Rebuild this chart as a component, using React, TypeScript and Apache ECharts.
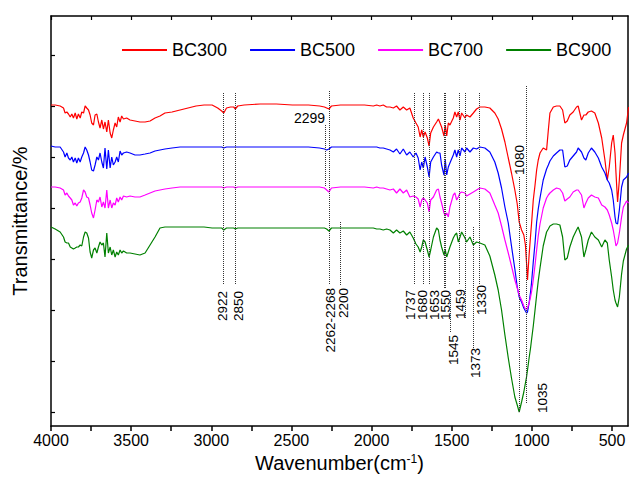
import React, { useEffect, useRef } from 'react';
import * as echarts from 'echarts';

const FONT = "'Liberation Sans', Arial, Helvetica, sans-serif";

// Wavenumber grid (cm-1), shared by all four spectra
const wavenumbers = [
  4000, 3974, 3943, 3922, 3912, 3901, 3891, 3880, 3870, 3860, 3849, 3839, 3829, 3818, 3808, 3797, 3787, 3777, 3766, 3756,
  3746, 3735, 3725, 3714, 3704, 3694, 3683, 3673, 3663, 3652, 3642, 3631, 3621, 3611, 3600, 3590, 3580, 3569, 3559, 3548,
  3528, 3507, 3476, 3445, 3413, 3382, 3351, 3320, 3289,
  3245, 3195, 3145, 3095, 3045, 2995, 2960, 2935, 2922, 2905, 2880, 2860, 2850, 2835, 2795, 2695, 2594, 2494, 2394, 2324,
  2294, 2280, 2266, 2250, 2194, 2144, 2094, 2044,
  1989, 1968, 1948, 1927, 1906, 1885, 1864, 1844, 1823, 1802, 1781, 1761, 1740, 1723, 1709, 1697, 1687, 1677, 1666, 1652,
  1641, 1631, 1614, 1594, 1583, 1573, 1563, 1548, 1540, 1531, 1521, 1511, 1490, 1480, 1469, 1459, 1448, 1438, 1417, 1407,
  1386, 1365, 1345, 1324,
  1293, 1262, 1231, 1210, 1189, 1168, 1147, 1127, 1106, 1091, 1079, 1064, 1050, 1040, 1033, 1027, 1017, 1008, 1002, 991,
  980, 970, 960, 949, 929, 908, 897, 887, 866, 846, 825, 808, 794, 779, 763, 742, 721, 711, 690, 675,
  663, 648, 628, 607, 585, 564, 544, 529, 517, 502, 492, 481, 475, 465, 454, 440, 429, 409, 396,
];

// Transmittance (arbitrary units, curves offset)
const bc300 = [
  321, 321, 320, 318, 313, 314, 312, 309, 312, 308, 313, 307, 312, 308, 314, 313, 320, 318, 316, 311,
  303, 301, 311, 312, 304, 298, 306, 297, 304, 294, 306, 293, 288, 296, 303, 299, 309, 304, 310, 307,
  308, 306, 305, 304, 304, 305, 308, 310, 313,
  314, 316, 318, 320, 321, 321, 318, 315, 313, 318, 319, 319, 317, 320, 321, 322, 322, 321, 321, 320,
  319, 318, 317, 320, 321, 321, 321, 321,
  320, 321, 320, 321, 319, 319, 318, 320, 316, 319, 316, 318, 308, 303, 299, 289, 296, 289, 294, 288,
  280, 293, 299, 304, 307, 303, 299, 290, 301, 290, 303, 301, 308, 314, 309, 314, 306, 313, 308, 311,
  309, 313, 317, 319,
  319, 318, 313, 307, 297, 284, 268, 253, 236, 222, 204, 196, 191, 181, 163, 146, 171, 190, 202, 226,
  241, 256, 266, 273, 278, 276, 296, 313, 319, 320, 320, 316, 303, 305, 311, 314, 319, 320, 306, 311,
  311, 314, 315, 313, 303, 288, 266, 246, 259, 283, 291, 273, 253, 224, 246, 283, 291, 303, 319,
];

const bc500 = [
  280, 279, 279, 274, 269, 273, 268, 266, 269, 264, 268, 263, 268, 264, 269, 273, 279, 276, 271, 264,
  256, 255, 261, 269, 266, 273, 264, 258, 278, 257, 276, 258, 269, 261, 264, 269, 264, 275, 271, 273,
  274, 273, 271, 271, 272, 273, 275, 276, 277,
  278, 279, 279, 279, 279, 279, 279, 279, 278, 279, 279, 279, 279, 279, 279, 279, 279, 279, 279, 278,
  277, 276, 277, 279, 279, 279, 279, 279,
  279, 279, 278, 278, 277, 276, 274, 277, 272, 277, 271, 274, 269, 273, 268, 256, 264, 258, 269, 259,
  249, 264, 269, 274, 273, 273, 261, 251, 266, 251, 259, 263, 271, 276, 269, 276, 270, 278, 274, 278,
  274, 278, 277, 279,
  278, 274, 264, 253, 238, 219, 203, 180, 157, 139, 129, 124, 118, 115, 113, 114, 123, 134, 143, 164,
  183, 204, 217, 228, 246, 257, 261, 265, 270, 273, 276, 276, 259, 260, 266, 270, 274, 278, 274, 268,
  266, 273, 278, 274, 268, 259, 253, 246, 243, 236, 226, 209, 203, 202, 216, 239, 246, 249, 253,
];

const bc700 = [
  239, 239, 238, 236, 231, 233, 230, 228, 226, 221, 223, 220, 223, 224, 228, 236, 234, 229, 228, 221,
  213, 208, 216, 226, 224, 229, 219, 224, 218, 236, 218, 226, 218, 223, 221, 228, 224, 229, 226, 230,
  229, 230, 229, 229, 231, 233, 235, 236, 237,
  238, 239, 239, 239, 239, 239, 239, 239, 238, 239, 239, 239, 238, 239, 239, 239, 239, 239, 239, 239,
  238, 236, 234, 238, 239, 239, 239, 239,
  238, 239, 238, 238, 237, 236, 237, 233, 237, 233, 236, 229, 230, 229, 227, 219, 226, 228, 226, 223,
  214, 226, 229, 236, 237, 229, 223, 213, 210, 213, 209, 219, 231, 233, 226, 229, 233, 234, 233, 230,
  232, 234, 236, 238,
  237, 233, 221, 213, 200, 186, 173, 160, 146, 138, 131, 126, 120, 117, 117, 118, 123, 129, 134, 146,
  161, 176, 190, 202, 218, 228, 231, 233, 236, 238, 237, 233, 225, 227, 229, 234, 236, 236, 231, 218,
  223, 228, 231, 229, 228, 221, 219, 216, 211, 203, 196, 186, 180, 183, 193, 209, 219, 225, 223,
];

const bc900 = [
  199, 197, 194, 189, 184, 183, 183, 179, 178, 177, 178, 179, 179, 181, 180, 189, 194, 193, 188, 174,
  168, 176, 178, 173, 179, 184, 181, 183, 169, 193, 173, 179, 171, 176, 169, 174, 171, 176, 173, 175,
  173, 173, 172, 171, 173, 181, 189, 198, 199,
  199, 199, 199, 199, 199, 198, 198, 198, 196, 198, 198, 198, 197, 198, 198, 198, 198, 198, 198, 198,
  198, 197, 195, 198, 198, 198, 198, 198,
  198, 197, 197, 196, 197, 196, 193, 196, 193, 195, 191, 194, 188, 182, 179, 174, 179, 186, 184, 176,
  169, 176, 189, 198, 196, 186, 179, 171, 176, 169, 174, 179, 188, 191, 193, 184, 189, 194, 188, 184,
  189, 181, 184, 183,
  181, 170, 151, 136, 116, 91, 68, 48, 29, 21, 14, 24, 34, 43, 49, 56, 68, 78, 86, 100,
  116, 131, 145, 158, 180, 194, 197, 200, 202, 202, 201, 189, 166, 168, 179, 189, 196, 199, 189, 169,
  176, 186, 194, 189, 186, 179, 186, 183, 166, 149, 136, 126, 123, 119, 129, 152, 165, 177, 181,
];

const seriesNames = ['BC300', 'BC500', 'BC700', 'BC900'];
const seriesColors = ['#ff0000', '#0000ff', '#ff00ff', '#008000'];

const xLabelValues = [4000, 3500, 3000, 2500, 2000, 1500, 1000, 500];
const xTickValues = [4000, 3750, 3500, 3250, 3000, 2750, 2500, 2250, 2000, 1750, 1500, 1250, 1000, 750, 500];
const yTickValues = [14, 65, 116, 167, 218, 269, 320, 371];

// Peak-marker lines: [wavenumber, upper end, lower end]
const peakLines = [
  [2924, 333, 141], [2849, 333, 141], [2262, 335, 141], [2290, 301, 240], [2196, 204, 141],
  [1733, 333, 141], [1677, 333, 141], [1643, 333, 141], [1548, 333, 138], [1538, 333, 138],
  [1506, 133, 93], [1455, 333, 141], [1414, 333, 107], [1366, 199, 78], [1331, 333, 141],
  [1080, 249, 14], [1035, 340, 23],
];

// Vertical peak labels: [text, wavenumber of label centre, upper end]
const peakLabels = [
  ['2922', 2931, 135], ['2850', 2831, 135], ['2262-2268', 2259, 138], ['2200', 2172, 138],
  ['1737', 1756, 136], ['1680', 1681, 136], ['1653', 1609, 136], ['1550', 1536, 136],
  ['1545', 1490, 91], ['1459', 1442, 137], ['1373', 1350, 78], ['1330', 1317, 141],
  ['1080', 1074, 281], ['1035', 933, 43],
];
const horizontalLabel = ['2299', 2290, 301];

export default function App() {
  const ref = useRef<HTMLDivElement>(null);

  useEffect(() => {
    document.body.style.margin = '0';
    if (!ref.current) return;
    const chart = echarts.init(ref.current, null, { renderer: 'svg' });
    const allData = [bc300, bc500, bc700, bc900];
    const axisLineStyle = { color: '#000', width: 1.5 };

    const series: any[] = allData.map((vals, si) => ({
      name: seriesNames[si],
      type: 'line',
      xAxisIndex: 0,
      yAxisIndex: 0,
      data: wavenumbers.map((w, i) => [w, vals[i]]),
      showSymbol: false,
      symbol: 'none',
      lineStyle: { color: seriesColors[si], width: 1.2 },
      itemStyle: { color: seriesColors[si] },
      emphasis: { disabled: true },
      z: 3,
    }));
    series[0].markLine = {
      silent: true,
      symbol: ['none', 'none'],
      label: { show: false },
      emphasis: { disabled: true },
      lineStyle: { type: 'dotted', color: '#333', width: 1 },
      data: peakLines.map(([wn, y1, y2]) => [{ coord: [wn, y1] }, { coord: [wn, y2] }]),
    };

    const option: any = {
      animation: false,
      backgroundColor: '#fff',
      textStyle: { fontFamily: FONT },
      grid: { left: 51, right: 1, top: 16, bottom: 52, containLabel: false, outerBoundsMode: 'none' },
      legend: {
        show: true,
        data: seriesNames,
        left: 117,
        top: 36,
        icon: 'rect',
        itemWidth: 45,
        itemHeight: 2,
        itemGap: 23,
        selectedMode: false,
        textStyle: { fontSize: 18, color: '#000', fontFamily: FONT },
      },
      xAxis: [
        {
          type: 'value', position: 'bottom', min: 400, max: 4000, inverse: true,
          axisLine: { show: true, onZero: false, lineStyle: axisLineStyle },
          axisTick: { show: true, inside: false, length: 5, customValues: xTickValues, lineStyle: axisLineStyle },
          axisLabel: {
            show: true, customValues: xLabelValues, fontSize: 16, color: '#000', fontFamily: FONT, margin: 6,
            formatter: (v: number) => String(v),
          },
          splitLine: { show: false },
          name: 'Wavenumber(cm{sup|-1})',
          nameLocation: 'middle',
          nameGap: 22,
          nameTextStyle: {
            fontSize: 20, color: '#000', fontFamily: FONT,
            rich: { sup: { fontSize: 12, verticalAlign: 'top', color: '#000', fontFamily: FONT } },
          },
        },
        {
          type: 'value', position: 'top', min: 400, max: 4000, inverse: true,
          axisLine: { show: true, onZero: false, lineStyle: axisLineStyle },
          axisTick: { show: true, inside: true, length: 4, customValues: xTickValues, lineStyle: { color: '#000', width: 1.2 } },
          axisLabel: { show: false },
          splitLine: { show: false },
        },
      ],
      yAxis: [
        {
          type: 'value', position: 'left', min: 0, max: 410,
          axisLine: { show: true, onZero: false, lineStyle: axisLineStyle },
          axisTick: { show: true, inside: true, length: 4, customValues: yTickValues, lineStyle: { color: '#000', width: 1.2 } },
          axisLabel: { show: false },
          splitLine: { show: false },
          name: 'Transmittance/%',
          nameLocation: 'middle',
          nameGap: 21,
          nameRotate: 90,
          nameTextStyle: { fontSize: 20, color: '#000', fontFamily: FONT },
        },
        {
          type: 'value', position: 'right', min: 0, max: 410,
          axisLine: { show: true, onZero: false, lineStyle: axisLineStyle },
          axisTick: { show: false },
          axisLabel: { show: false },
          splitLine: { show: false },
        },
      ],
      series,
    };
    chart.setOption(option);

    const toPx = (wn: number, v: number) =>
      chart.convertToPixel({ xAxisIndex: 0, yAxisIndex: 0 }, [wn, v]) as number[];
    const elements: any[] = peakLabels.map(([text, wn, v]) => {
      const [x, y] = toPx(wn as number, v as number);
      return {
        type: 'text', x, y, rotation: Math.PI / 2, silent: true,
        style: { text, fontSize: 13.5, fontFamily: FONT, fill: '#000', align: 'right', verticalAlign: 'middle' },
      };
    });
    const [hx, hy] = toPx(horizontalLabel[1] as number, horizontalLabel[2] as number);
    elements.push({
      type: 'text', x: hx, y: hy, silent: true,
      style: { text: horizontalLabel[0], fontSize: 14, fontFamily: FONT, fill: '#000', align: 'right', verticalAlign: 'bottom' },
    });
    chart.setOption({ graphic: elements });

    return () => chart.dispose();
  }, []);

  return (
    <div
      ref={ref}
      style={{ width: 629, height: 478, position: 'absolute', left: 0, top: 0, background: '#fff' }}
    />
  );
}
